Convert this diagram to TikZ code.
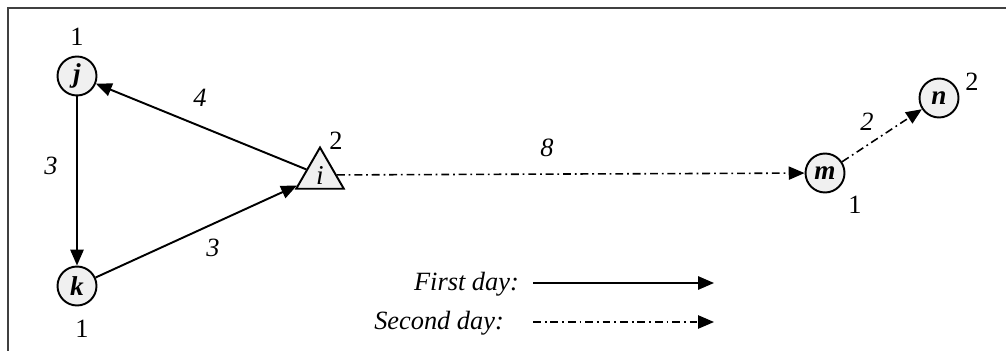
\documentclass[tikz,border=0pt]{standalone}
\usepackage{fontspec}
\setmainfont{Liberation Serif}
\usepackage{tikz}
\usetikzlibrary{arrows.meta, positioning, shapes.geometric}

\begin{document}
\begin{tikzpicture}[x=0.02cm, y=-0.02cm,
  font=\fontsize{15}{17}\selectfont,
  city/.style={draw, circle, line width=1.1pt, fill=gray!12, minimum size=0.78cm, inner sep=0pt, font=\fontsize{15.5}{17}\selectfont\bfseries\itshape},
  depot/.style={draw, regular polygon, regular polygon sides=3, line width=1.1pt, fill=gray!12, minimum size=1.1cm, inner sep=0pt, font=\fontsize{15.5}{17}\selectfont\itshape},
  dayone/.style={-{Triangle[length=9pt, width=7.5pt]}, line width=1.1pt},
  daytwo/.style={-{Triangle[length=9pt, width=7.5pt]}, line width=0.9pt, dash pattern=on 4.5pt off 2.2pt on 1pt off 2.2pt},
  wgt/.style={font=\fontsize{15}{17}\selectfont\itshape},
  frame/.style={draw=black!75, line width=0.6pt}
]
  \useasboundingbox (0,0) rectangle (1006,351);
  \draw[frame] (8,360) -- (8,8) -- (1015,8);

  % Nodes
  \node[city] (j) at (77,76) {j};
  \node[city] (k) at (77,286) {k};
  \node[depot] (i) at (320,175) {i};
  \node[city] (m) at (825,173) {m};
  \node[city] (n) at (939,98) {n};

  % Demands
  \node (dj) at (77,37) {1};
  \node (dk) at (82,329) {1};
  \node (di) at (336,141) {2};
  \node (dm) at (855,205) {1};
  \node (dn) at (972,82) {2};

  % First day
  \draw[dayone] (i) -- (j);
  \draw[dayone] (j) -- (k);
  \draw[dayone] (k) -- (i);
  \node[wgt] (wij) at (200,98) {4};
  \node[wgt] (wjk) at (51,166) {3};
  \node[wgt] (wki) at (213,248) {3};

  % Second day
  \draw[daytwo] (i) -- (m);
  \draw[daytwo] (m) -- (n);
  \node[wgt] (wim) at (547,148) {8};
  \node[wgt] (wmn) at (867,122) {2};

  % Legend
  \node[wgt, anchor=east] (l1) at (525,284) {First day:};
  \node[wgt, anchor=east] (l2) at (510,323) {Second day:};
  \coordinate (a1) at (533,283);
  \coordinate (b1) at (714,283);
  \coordinate (a2) at (533,322);
  \coordinate (b2) at (714,322);
  \draw[dayone] (a1) -- (b1);
  \draw[daytwo] (a2) -- (b2);
\end{tikzpicture}
\end{document}
